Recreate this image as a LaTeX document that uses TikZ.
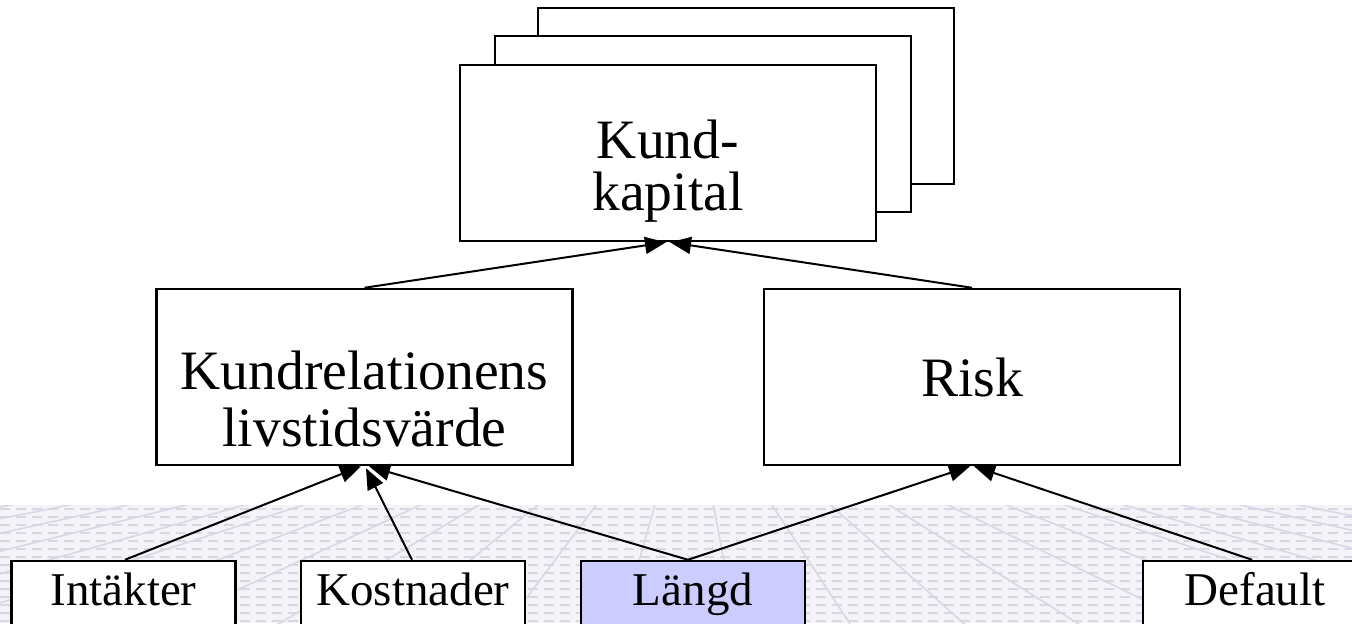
\documentclass[tikz,border=0pt]{standalone}
\usepackage{fontspec}
\setmainfont{Liberation Serif}
\usetikzlibrary{arrows.meta}
\definecolor{bandbg}{HTML}{F4F4F8}
\definecolor{bandline}{HTML}{D8D8E4}
\definecolor{lavender}{HTML}{CCCCFF}
\tikzset{
  box/.style={draw=black, line width=1.25pt, fill=white, inner sep=0pt},
  bigbox/.style={box, minimum width=208pt, minimum height=88pt},
  bigtext/.style={inner sep=0pt, align=center,
    font=\fontsize{27.8pt}{26pt}\selectfont},
  smallbox/.style={box, minimum width=112pt, minimum height=39pt,
    font=\fontsize{23.5pt}{25pt}\selectfont, text height=0.7em, text depth=0.2em},
  link/.style={draw=black, line width=1pt, -{Triangle[length=10.5pt, width=8.5pt]}},
  texline/.style={draw=bandline, line width=0.8pt}
}
\begin{document}
\begin{tikzpicture}[x=0.5pt, y=-0.5pt]
  \useasboundingbox (0,0) rectangle (1352,623);
  \clip (0,0) rectangle (1352,623);

  % textured floor band
  \begin{scope}
    \clip (0,505) rectangle (1352,623);
    \fill[bandbg] (0,505) rectangle (1352,623);
    \foreach \yy in {509,517,...,621}
      \draw[texline, dash pattern=on 5pt off 3pt] (0,\yy) -- (1352,\yy);
    \foreach \xx in {-1800,-1650,...,3300}
      \draw[texline] (690,380) -- (\xx,700);
  \end{scope}

  % stacked boxes behind the top node
  \node[bigbox] (back) at (746,96) {};
  \node[bigbox] (middle) at (703,124) {};
  \node[bigbox] (kk) at (668,153) {};
  \node[bigtext] (kkt) at ([yshift=-9pt]kk.center) {Kund-\\kapital};

  % middle level
  \node[bigbox] (kl) at (364.5,377) {};
  \node[bigtext, font=\fontsize{27.8pt}{28.5pt}\selectfont] (klt)
    at ([yshift=-11pt]kl.center) {Kundrelationens\\livstidsvärde};
  \node[bigbox] (rk) at (972,377) {};
  \node[bigtext] (rkt) at (rk.center) {Risk};

  % bottom level
  \node[smallbox] (in) at (123.5,600) {Intäkter};
  \node[smallbox] (ko) at (413,600) {Kostnader};
  \node[smallbox, fill=lavender] (ld) at (693,600) {Längd};
  \node[smallbox] (df) at (1255,600) {Default};

  % connectors
  \draw[link] (kl.north) -- ([xshift=-1pt]kk.south);
  \draw[link] (rk.north) -- ([xshift=1pt]kk.south);

  \draw[link] ([xshift=0.75pt]in.north) -- ([xshift=-1.75pt]kl.south);
  \draw[link] ([xshift=-0.5pt]ko.north) -- ([xshift=0.75pt,yshift=-1pt]kl.south);
  \draw[link] ([xshift=-2.5pt]ld.north) -- ([xshift=2.25pt]kl.south);
  \draw[link] ([xshift=-2.5pt]ld.north) -- ([xshift=-1pt]rk.south);
  \draw[link] ([xshift=-1.5pt]df.north) -- ([xshift=1pt]rk.south);
\end{tikzpicture}
\end{document}
